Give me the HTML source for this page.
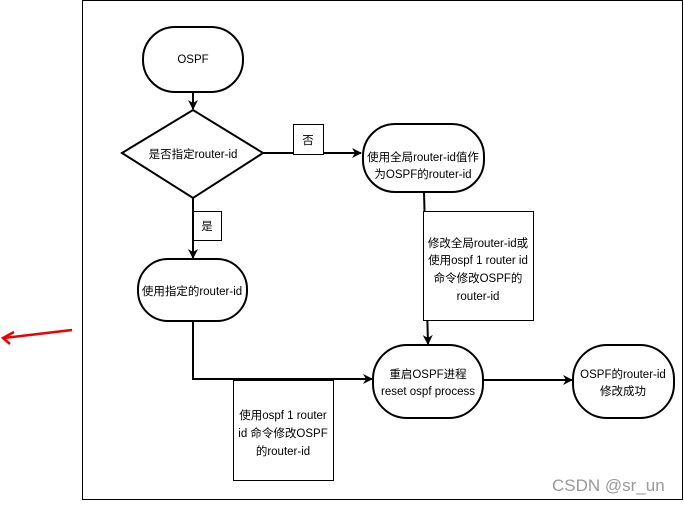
<!DOCTYPE html>
<html><head><meta charset="utf-8"><style>
body{margin:0;background:#fff}
svg text{font-family:"Liberation Sans","Noto Sans CJK SC",sans-serif;font-size:11.5px;fill:#000}
</style></head><body>
<svg width="684" height="501" viewBox="0 0 684 501" xmlns="http://www.w3.org/2000/svg">
<defs><marker id="a" markerWidth="10" markerHeight="10" refX="9" refY="5" orient="auto" markerUnits="userSpaceOnUse"><path d="M0,0 L10,5 L0,10 L3,5 Z" fill="#000"/></marker></defs>
<rect x="82.5" y="0.5" width="600" height="499" fill="#fff" stroke="#000" stroke-width="1"/>
<g fill="#fff" stroke="#000" stroke-width="2">
<rect x="143" y="27" width="100" height="65" rx="32"/>
<polygon points="122,153 193,110 263,153 193,198"/>
<rect x="363" y="124" width="121" height="68" rx="32"/>
<rect x="138" y="259" width="109" height="62" rx="30"/>
<rect x="373" y="345" width="110" height="73" rx="34"/>
<rect x="573" y="345" width="101" height="73" rx="34"/>
</g>
<g stroke="#000" stroke-width="2" fill="none">
<line x1="193" y1="92" x2="193" y2="109" marker-end="url(#a)"/>
<line x1="263" y1="153" x2="361" y2="153" marker-end="url(#a)"/>
<line x1="193" y1="198" x2="193" y2="258" marker-end="url(#a)"/>
<polyline points="424,192 428,344" marker-end="url(#a)"/>
<polyline points="193,321 193,379 372,379" marker-end="url(#a)"/>
<line x1="483" y1="380" x2="572" y2="380" marker-end="url(#a)"/>
</g>
<g fill="#fff" stroke="#000" stroke-width="1">
<rect x="293.5" y="124.5" width="30" height="30"/>
<rect x="193.5" y="211.5" width="28" height="29"/>
<rect x="423.5" y="211.5" width="110" height="109"/>
<rect x="233.5" y="380.5" width="100" height="100"/>
</g>
<g text-anchor="middle">
<text x="193" y="63">OSPF</text>
<text x="193" y="158">是否指定router-id</text>
<text x="308" y="144">否</text>
<text x="207" y="230">是</text>
<text x="423" y="161">使用全局router-id值作</text>
<text x="423" y="178">为OSPF的router-id</text>
<text x="192" y="295">使用指定的router-id</text>
<text x="478" y="247">修改全局router-id或</text>
<text x="478" y="264">使用ospf 1 router id</text>
<text x="478" y="282">命令修改OSPF的</text>
<text x="478" y="300">router-id</text>
<text x="283" y="419">使用ospf 1 router</text>
<text x="283" y="437">id 命令修改OSPF</text>
<text x="283" y="455">的router-id</text>
<text x="428" y="378">重启OSPF进程</text>
<text x="428" y="395">reset ospf process</text>
<text x="623" y="378">OSPF的router-id</text>
<text x="623" y="395">修改成功</text>
</g>
<text x="552" y="491" style="font-size:17px;fill:#999">CSDN @sr_un</text>
<g stroke="#e00" stroke-width="2.5" fill="none">
<line x1="72" y1="330" x2="4" y2="338"/>
<polyline points="14,332 3,338 10,344"/>
</g>
</svg>
</body></html>
